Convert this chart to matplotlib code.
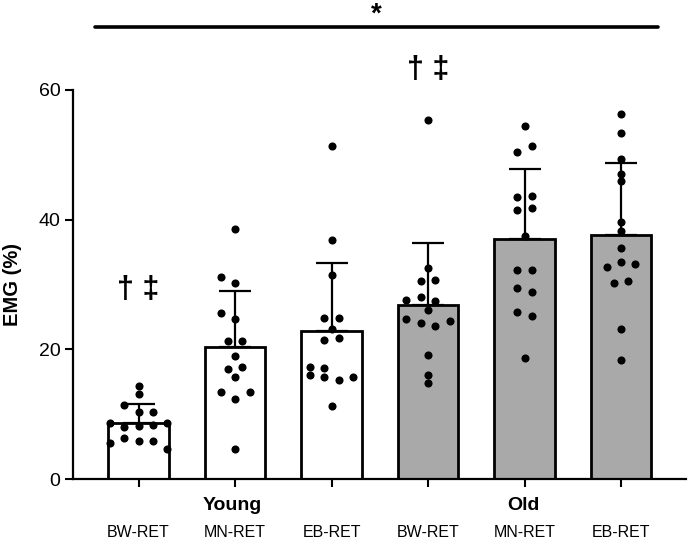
import matplotlib
matplotlib.use("Agg")
import matplotlib.pyplot as plt
import matplotlib.transforms as mtransforms
import numpy as np

plt.rcParams['font.family'] = ['Liberation Sans', 'DejaVu Sans']

# ---------------- data ----------------
conditions = ["BW-RET", "MN-RET", "EB-RET", "BW-RET", "MN-RET", "EB-RET"]
groups = ["Young", "Old"]
means = [8.6, 20.3, 22.9, 26.9, 37.0, 37.7]
sds = [2.9, 8.7, 10.4, 9.5, 10.8, 11.0]

young_bw = [14.4, 13.1, 11.4, 10.4, 10.4, 8.7, 8.0, 8.1, 8.3, 8.7, 5.6, 6.4, 5.8, 5.8, 4.6]
young_mn = [38.6, 31.2, 30.3, 25.6, 24.7, 21.3, 21.3, 19.0, 16.9, 17.2, 15.7, 13.4, 13.4, 12.3, 4.7]
young_eb = [51.4, 36.8, 31.5, 24.9, 24.9, 23.1, 21.5, 21.7, 17.3, 17.1, 16.0, 15.7, 15.3, 15.7, 11.3]
old_bw = [55.4, 32.5, 30.5, 30.7, 27.6, 28.0, 27.5, 26.1, 24.7, 24.1, 23.6, 24.4, 19.2, 16.0, 14.8]
old_mn = [54.5, 50.5, 51.4, 43.5, 43.6, 41.5, 41.8, 37.5, 32.3, 32.2, 29.4, 28.9, 25.7, 25.2, 18.6]
old_eb = [56.3, 53.3, 49.4, 47.0, 45.9, 39.6, 38.3, 35.7, 33.5, 32.7, 33.1, 30.2, 30.5, 23.2, 18.4]
points = [young_bw, young_mn, young_eb, old_bw, old_mn, old_eb]

# horizontal scatter slots of the dots (layout, in dot half-steps)
slots = [
    [0, 0, -2, 0, 2, -4, -2, 0, 2, 4, -4, -2, 0, 2, 4],
    [0, -2, 0, -2, 0, -1, 1, 0, -1, 1, 0, -2, 2, 0, 0],
    [0, 0, 0, -1, 1, 0, -1, 1, -3, -1, -3, -1, 1, 3, 0],
    [0, 0, -1, 1, -3, -1, 1, 0, -3, -1, 1, 3, 0, 0, 0],
    [0, -1, 1, -1, 1, -1, 1, 0, -1, 1, -1, 1, -1, 1, 0],
    [0, 0, 0, 0, 0, 0, 0, 0, 0, -2, 2, -1, 1, 0, 0],
]

sig_marks = {0: "† ‡", 3: "† ‡"}
sig_level = {0: 29.2, 3: 63.1}
overall_mark = "*"

# ---------------- figure ----------------
fig = plt.figure(figsize=(6.89, 5.49), dpi=100)
ax = fig.add_axes([0.106, 0.1275, 0.8897, 0.7086])

x = np.arange(len(conditions))
colors = ["white"] * 3 + ["#a9a9a9"] * 3

ax.bar(x, means, width=0.63, color=colors, edgecolor="black", linewidth=2.0, zorder=2)
ax.errorbar(x, means, yerr=[np.zeros(len(sds)), sds], fmt="none", ecolor="black",
            elinewidth=1.6, capsize=11.5, capthick=1.6, zorder=3)

step = 0.075
for i, (vals, sl) in enumerate(zip(points, slots)):
    xs = x[i] + np.array(sl) * step
    ax.scatter(xs, vals, s=34, color="black", zorder=4, linewidths=0)

ax.set_xlim(-0.679, 5.674)
ax.set_ylim(0, 60)
ax.set_yticks([0, 20, 40, 60])
ax.set_xticks(x)
ax.set_xticklabels(conditions, fontsize=11.5)
ax.tick_params(axis="x", length=6, width=1.5, pad=27)
ax.tick_params(axis="y", length=6, width=1.5, labelsize=14, pad=3)
for s in ["top", "right"]:
    ax.spines[s].set_visible(False)
for s in ["left", "bottom"]:
    ax.spines[s].set_linewidth(1.6)

ax.set_ylabel("EMG (%)", fontsize=14.5, fontweight="bold", labelpad=12)

trans = mtransforms.blended_transform_factory(ax.transData, ax.transAxes)
ax.text(0.97, -0.067, groups[0], transform=trans, ha="center", va="center",
        fontsize=14, fontweight="bold")
ax.text(3.99, -0.067, groups[1], transform=trans, ha="center", va="center",
        fontsize=14, fontweight="bold")

for i, m in sig_marks.items():
    ax.text(x[i], sig_level[i], m, ha="center", va="center", fontsize=22,
            fontweight="bold", clip_on=False)

ax.plot([-0.45, 5.38], [69.7, 69.7], color="black", lw=2.6, solid_capstyle="round",
        clip_on=False)
ax.text(2.46, 71.6, overall_mark, ha="center", va="center", fontsize=20,
        fontweight="bold", clip_on=False)

fig.savefig("out.png", dpi=100)
